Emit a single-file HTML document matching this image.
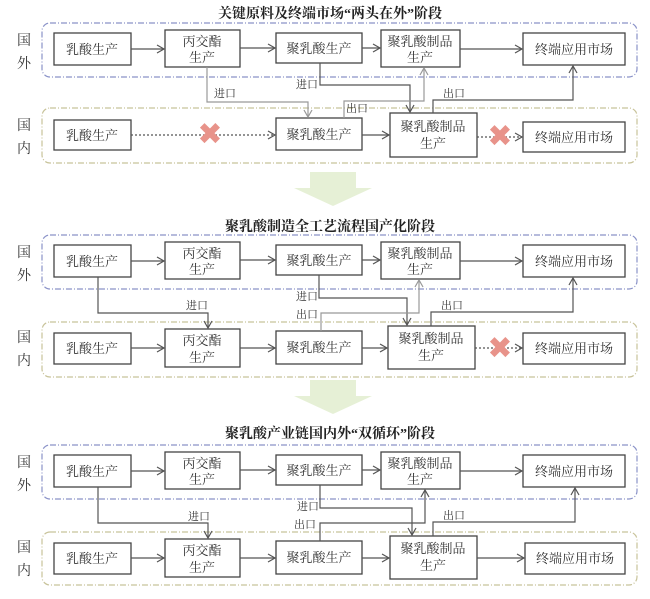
<!DOCTYPE html>
<html><head><meta charset="utf-8"><style>
html,body{margin:0;padding:0;background:#fff;}
svg{display:block;font-family:"Liberation Serif","Noto Serif CJK SC","Noto Sans CJK SC",serif;}
.b{fill:#fff;stroke:#444;stroke-width:1.3}
.t{font-size:13px;fill:#333;text-anchor:middle}
.l{font-size:11px;fill:#333}
.s{font-size:14px;fill:#333;text-anchor:middle}
.ti{font-size:14px;font-weight:bold;fill:#222;text-anchor:middle}
.ln{fill:none;stroke:#555;stroke-width:1.2}
.lg{fill:none;stroke:#999;stroke-width:1.2}
.dl{fill:none;stroke:#555;stroke-width:1.2;stroke-dasharray:2 2}
.fo{fill:none;stroke:#8a92c8;stroke-width:1.2;stroke-dasharray:6 2 1 2}
.dm{fill:none;stroke:#c8c39a;stroke-width:1.2;stroke-dasharray:6 2 1 2}
</style></head><body>
<svg width="650" height="599" viewBox="0 0 650 599">
<defs>
<marker id="a" markerWidth="10" markerHeight="10" refX="8" refY="5" orient="auto" markerUnits="userSpaceOnUse"><polyline points="1,1 8,5 1,9" fill="none" stroke="#555" stroke-width="1.2"/></marker>
<marker id="ag" markerWidth="10" markerHeight="10" refX="8" refY="5" orient="auto" markerUnits="userSpaceOnUse"><polyline points="1,1 8,5 1,9" fill="none" stroke="#999" stroke-width="1.2"/></marker>
<g id="top">
<rect class="fo" x="42" y="23" width="595" height="54" rx="8"/>
<text class="s" x="24" y="45">国</text><text class="s" x="24" y="68">外</text>
<rect class="b" x="54" y="33" width="77" height="32"/><text class="t" x="92" y="54">乳酸生产</text>
<rect class="b" x="165" y="30" width="75" height="37"/><text class="t" x="202" y="46">丙交酯</text><text class="t" x="202" y="62">生产</text>
<rect class="b" x="276" y="33" width="86" height="30"/><text class="t" x="319" y="53">聚乳酸生产</text>
<rect class="b" x="381" y="30" width="79" height="37"/><text class="t" x="420" y="46">聚乳酸制品</text><text class="t" x="420" y="62">生产</text>
<rect class="b" x="523" y="33" width="102" height="32"/><text class="t" x="574" y="54">终端应用市场</text>
<line class="ln" x1="131" y1="49" x2="164" y2="49" marker-end="url(#a)"/>
<line class="ln" x1="240" y1="48" x2="275" y2="48" marker-end="url(#a)"/>
<line class="ln" x1="362" y1="48" x2="380" y2="48" marker-end="url(#a)"/>
<line class="ln" x1="460" y1="49" x2="522" y2="49" marker-end="url(#a)"/>
</g>
<g id="arr"><polygon points="310,172 356,172 356,188 372,188 333,206 294,188 310,188" fill="#e6f0d6"/></g>
</defs>

<!-- Section 1 -->
<text class="ti" x="330" y="18">关键原料及终端市场“两头在外”阶段</text>
<use href="#top"/>
<rect class="dm" x="42" y="108" width="595" height="55" rx="8"/>
<text class="s" x="24" y="130">国</text><text class="s" x="24" y="153">内</text>
<rect class="b" x="54" y="120" width="77" height="30"/><text class="t" x="92" y="140">乳酸生产</text>
<rect class="b" x="276" y="118" width="86" height="32"/><text class="t" x="319" y="139">聚乳酸生产</text>
<rect class="b" x="390" y="113" width="87" height="44"/><text class="t" x="433" y="131">聚乳酸制品</text><text class="t" x="433" y="148">生产</text>
<rect class="b" x="523" y="122" width="102" height="30"/><text class="t" x="574" y="142">终端应用市场</text>
<line class="dl" x1="131" y1="135" x2="275" y2="135" marker-end="url(#a)"/>
<line class="ln" x1="362" y1="135" x2="389" y2="135" marker-end="url(#a)"/>
<line class="dl" x1="477" y1="137" x2="522" y2="137" marker-end="url(#a)"/>
<text x="210" y="144" font-size="30" fill="#e8938a" text-anchor="middle" font-weight="bold" font-family="DejaVu Sans,sans-serif">✖</text>
<text x="500" y="146" font-size="30" fill="#e8938a" text-anchor="middle" font-weight="bold" font-family="DejaVu Sans,sans-serif">✖</text>
<polyline class="lg" points="207,67 207,102 308,102 308,117" marker-end="url(#ag)"/>
<text class="l" x="214" y="97">进口</text>
<polyline class="ln" points="320,63 320,85 410,85 410,112" marker-end="url(#a)"/>
<text class="l" x="296" y="88">进口</text>
<polyline class="lg" points="344,118 344,101 424,101 424,68" marker-end="url(#ag)"/>
<text class="l" x="346" y="112">出口</text>
<polyline class="ln" points="433,113 433,100 573,100 573,66" marker-end="url(#a)"/>
<text class="l" x="443" y="97">出口</text>
<use href="#arr"/>

<!-- Section 2 -->
<text class="ti" x="330" y="231">聚乳酸制造全工艺流程国产化阶段</text>
<g transform="translate(0,212)">
<use href="#top"/>
<rect class="dm" x="42" y="110" width="595" height="55" rx="8"/>
<text class="s" x="24" y="130">国</text><text class="s" x="24" y="153">内</text>
<rect class="b" x="54" y="121" width="77" height="31"/><text class="t" x="92" y="141">乳酸生产</text>
<rect class="b" x="165" y="117" width="75" height="38"/><text class="t" x="202" y="133">丙交酯</text><text class="t" x="202" y="150">生产</text>
<rect class="b" x="276" y="119" width="86" height="33"/><text class="t" x="319" y="140">聚乳酸生产</text>
<rect class="b" x="388" y="114" width="87" height="43"/><text class="t" x="431" y="131">聚乳酸制品</text><text class="t" x="431" y="148">生产</text>
<rect class="b" x="523" y="121" width="102" height="31"/><text class="t" x="574" y="141">终端应用市场</text>
<line class="ln" x1="131" y1="136" x2="164" y2="136" marker-end="url(#a)"/>
<line class="ln" x1="240" y1="136" x2="275" y2="136" marker-end="url(#a)"/>
<line class="ln" x1="362" y1="136" x2="387" y2="136" marker-end="url(#a)"/>
<line class="dl" x1="475" y1="136" x2="522" y2="136" marker-end="url(#a)"/>
<text x="500" y="146" font-size="30" fill="#e8938a" text-anchor="middle" font-weight="bold" font-family="DejaVu Sans,sans-serif">✖</text>
<polyline class="ln" points="98,65 98,101 208,101 208,116" marker-end="url(#a)"/>
<text class="l" x="186" y="97">进口</text>
<polyline class="ln" points="319,63 319,86 407,86 407,113" marker-end="url(#a)"/>
<text class="l" x="296" y="88">进口</text>
<polyline class="lg" points="321,119 321,101 419,101 419,68" marker-end="url(#ag)"/>
<text class="l" x="296" y="106">出口</text>
<polyline class="ln" points="431,114 431,100 573,100 573,66" marker-end="url(#a)"/>
<text class="l" x="441" y="97">出口</text>
</g>
<g transform="translate(0,208)"><use href="#arr"/></g>

<!-- Section 3 -->
<text class="ti" x="330" y="438">聚乳酸产业链国内外“双循环”阶段</text>
<g transform="translate(0,422)">
<use href="#top"/>
<rect class="dm" x="42" y="110" width="595" height="53" rx="8"/>
<text class="s" x="24" y="130">国</text><text class="s" x="24" y="153">内</text>
<rect class="b" x="54" y="121" width="77" height="31"/><text class="t" x="92" y="141">乳酸生产</text>
<rect class="b" x="165" y="117" width="75" height="38"/><text class="t" x="202" y="133">丙交酯</text><text class="t" x="202" y="150">生产</text>
<rect class="b" x="276" y="119" width="86" height="33"/><text class="t" x="319" y="140">聚乳酸生产</text>
<rect class="b" x="390" y="114" width="87" height="43"/><text class="t" x="433" y="131">聚乳酸制品</text><text class="t" x="433" y="148">生产</text>
<rect class="b" x="525" y="121" width="100" height="31"/><text class="t" x="575" y="141">终端应用市场</text>
<line class="ln" x1="131" y1="136" x2="164" y2="136" marker-end="url(#a)"/>
<line class="ln" x1="240" y1="136" x2="275" y2="136" marker-end="url(#a)"/>
<line class="ln" x1="362" y1="136" x2="389" y2="136" marker-end="url(#a)"/>
<line class="ln" x1="477" y1="136" x2="524" y2="136" marker-end="url(#a)"/>
<polyline class="ln" points="98,65 98,101 208,101 208,116" marker-end="url(#a)"/>
<text class="l" x="188" y="98">进口</text>
<polyline class="ln" points="320,63 320,86 412,86 412,113" marker-end="url(#a)"/>
<text class="l" x="297" y="88">进口</text>
<polyline class="ln" points="320,119 320,101 425,101 425,68" marker-end="url(#a)"/>
<text class="l" x="294" y="106">出口</text>
<polyline class="ln" points="433,114 433,100 575,100 575,66" marker-end="url(#a)"/>
<text class="l" x="443" y="97">出口</text>
</g>
</svg>
</body></html>
